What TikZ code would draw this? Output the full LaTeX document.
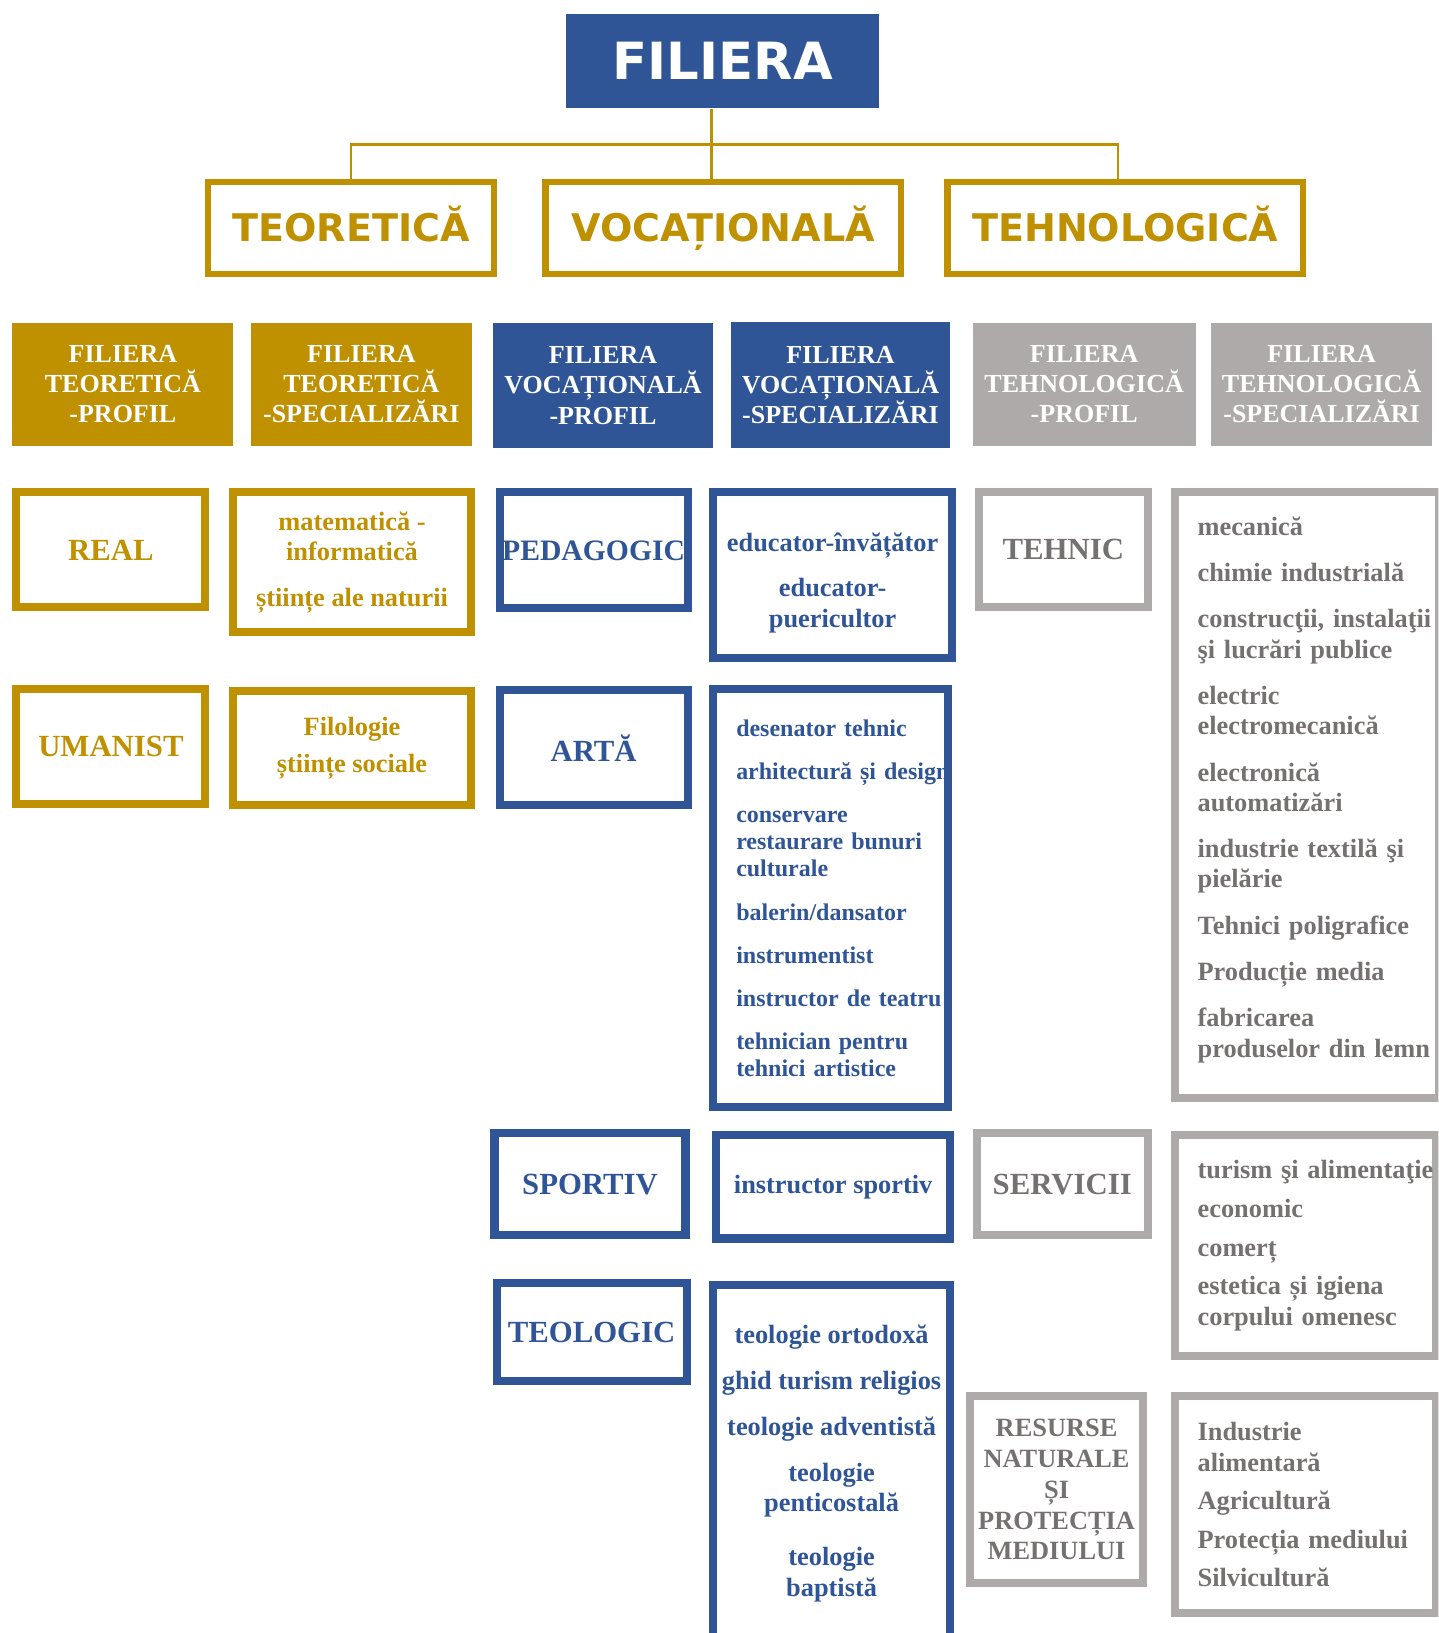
\documentclass[tikz,border=0pt]{standalone}
\usepackage{fontspec}
\setmainfont{Liberation Serif}
\newfontfamily\sansbold{DejaVu Sans}
\usetikzlibrary{positioning}

\definecolor{gold}{HTML}{BF9000}
\definecolor{navy}{HTML}{2F5597}
\definecolor{stone}{HTML}{AEAAAA}
\definecolor{slate}{HTML}{767171}

\begin{document}
\begin{tikzpicture}[x=0.01cm, y=-0.01cm,
    hub/.style = {fill=navy, text=white, inner sep=0,
        font=\sansbold\bfseries\fontsize{14}{16}\selectfont},
    branch/.style = {draw=gold, line width=1.65pt, text=gold, inner sep=0,
        text height=9.4pt, text depth=2pt,
        minimum height=0.882cm, font=\sansbold\bfseries\fontsize{10.4}{12}\selectfont},
    head/.style = {text=white, align=center, inner sep=0,
        font=\bfseries\fontsize{7.1}{8.25}\selectfont},
    cell/.style = {line width=2.2pt, align=center, inner sep=0,
        font=\bfseries\fontsize{7.2}{8.25}\selectfont},
    gcell/.style = {cell, draw=gold, text=gold},
    bcell/.style = {cell, draw=navy, text=navy},
    scell/.style = {cell, draw=stone, text=slate},
    big/.style = {font=\bfseries\fontsize{8.4}{10}\selectfont},
    list/.style = {align=left, inner xsep=0.22cm},
    link/.style = {draw=gold, line width=0.75pt}]

    \clip[use as bounding box] (0,0) rectangle (1381,1568);

    % top of the tree
    \node[hub, minimum width=3cm, minimum height=0.91cm] (hub) at (694,58.5) {FILIERA};
    \node[branch, minimum width=2.742cm] (teo) at (337,219) {TEORETICĂ};
    \node[branch, minimum width=3.412cm] (voc) at (694.5,219) {VOCAȚIONALĂ};
    \node[branch, minimum width=3.412cm] (teh) at (1080.5,219) {TEHNOLOGICĂ};

    \coordinate (junc) at (683,139);
    \draw[link] (junc |- hub.south) -- (junc |- voc.north);
    \draw[link] (teo.north) |- (junc) -| ([xshift=-0.07cm]teh.north);

    % filled headers
    \node[head, fill=gold, minimum width=2.12cm, minimum height=1.18cm] (tprof) at (118,369)
        {FILIERA\\TEORETICĂ\\-PROFIL};
    \node[head, fill=gold, minimum width=2.12cm, minimum height=1.18cm] (tspec) at (347,369)
        {FILIERA\\TEORETICĂ\\-SPECIALIZĂRI};
    \node[head, fill=navy, minimum width=2.12cm, minimum height=1.20cm] (vprof) at (579,370)
        {FILIERA\\VOCAȚIONALĂ\\-PROFIL};
    \node[head, fill=navy, minimum width=2.10cm, minimum height=1.21cm] (vspec) at (807,369.5)
        {FILIERA\\VOCAȚIONALĂ\\-SPECIALIZĂRI};
    \node[head, fill=stone, minimum width=2.14cm, minimum height=1.18cm] (hprof) at (1041,369)
        {FILIERA\\TEHNOLOGICĂ\\-PROFIL};
    \node[head, fill=stone, minimum width=2.12cm, minimum height=1.18cm] (hspec) at (1269,369)
        {FILIERA\\TEHNOLOGICĂ\\-SPECIALIZĂRI};

    % teoretica
    \node[gcell, big, minimum width=1.813cm, minimum height=1.103cm] (real) at (106.5,528) {REAL};
    \node[gcell, minimum width=2.283cm, minimum height=1.343cm] (mate) at (338,540)
        {matematică -\\informatică\\[4.4pt]științe ale naturii};
    \node[gcell, big, minimum width=1.813cm, minimum height=1.103cm] (uman) at (106.5,717) {UMANIST};
    \node[gcell, minimum width=2.283cm, minimum height=1.093cm] (filo) at (338,718.5)
        {Filologie\\[2pt]științe sociale};

    % vocationala
    \node[bcell, big, font=\bfseries\fontsize{8.1}{10}\selectfont,
        minimum width=1.803cm, minimum height=1.113cm] (peda) at (570,528.5) {PEDAGOGIC};
    \node[bcell, minimum width=2.293cm, minimum height=1.593cm] (educ) at (799.5,552.5)
        {\rule{0pt}{9pt}educator-învățător\\[4.3pt]educator-\\puericultor};
    \node[bcell, big, minimum width=1.803cm, minimum height=1.103cm] (arta) at (570,718) {ARTĂ};
    \node[bcell, list, text width=1.81cm, font=\bfseries\fontsize{6.55}{7.4}\selectfont,
        minimum width=2.253cm, minimum height=4.013cm] (dese) at (797.5,862.5)
        {desenator tehnic\\[4.4pt]
         \mbox{arhitectură și design}\\[4.4pt]
         conservare\\restaurare bunuri\\culturale\\[4.4pt]
         balerin/dansator\\[4.4pt]
         instrumentist\\[4.4pt]
         \mbox{instructor de teatru}\\[4.4pt]
         tehnician pentru\\tehnici artistice};
    \node[bcell, big, minimum width=1.833cm, minimum height=0.983cm] (sport) at (566.5,1137) {SPORTIV};
    \node[bcell, minimum width=2.243cm, minimum height=0.993cm] (instr) at (800,1139.5)
        {instructor sportiv};
    \node[bcell, big, minimum width=1.823cm, minimum height=0.943cm] (teol) at (568,1279) {TEOLOGIC};
    \node[bcell, minimum width=2.273cm, minimum height=3.423cm] (tlist) at (798.5,1405)
        {teologie ortodoxă\\[4.3pt]
         ghid turism religios\\[4.3pt]
         teologie adventistă\\[4.3pt]
         teologie\\penticostală\\[6.6pt]
         teologie\\baptistă};

    % tehnologica
    \node[scell, big, minimum width=1.623cm, minimum height=1.103cm] (tehn) at (1021,528) {TEHNIC};
    \node[scell, list, text width=2.10cm, minimum width=2.543cm, minimum height=5.813cm]
        (meca) at (1255,763.5)
        {mecanică\\[4.4pt]
         chimie industrială\\[4.4pt]
         \mbox{construcţii, instalaţii}\\şi lucrări publice\\[4.4pt]
         electric\\electromecanică\\[4.4pt]
         electronică\\automatizări\\[4.4pt]
         industrie textilă şi\\pielărie\\[4.4pt]
         Tehnici poligrafice\\[4.4pt]
         Producție media\\[4.4pt]
         fabricarea\\\mbox{produselor din lemn}\par\vspace*{3pt}};
    \node[scell, big, minimum width=1.643cm, minimum height=0.983cm] (serv) at (1020,1137) {SERVICII};
    \node[scell, list, text width=2.07cm, minimum width=2.513cm, minimum height=2.123cm]
        (turi) at (1253.5,1196)
        {\mbox{turism şi alimentaţie}\\[2.3pt]
         economic\\[2.3pt]
         comerț\\[2.3pt]
         estetica și igiena\\corpului omenesc};
    \node[scell, font=\bfseries\fontsize{7.2}{8.4}\selectfont,
        minimum width=1.653cm, minimum height=1.793cm] (resu) at (1014.5,1430.5)
        {RESURSE\\NATURALE\\ȘI\\PROTECȚIA\\MEDIULUI};
    \node[scell, list, text width=2.07cm, minimum width=2.513cm, minimum height=2.083cm]
        (indu) at (1253.5,1445)
        {Industrie\\alimentară\\[2.3pt]
         Agricultură\\[2.3pt]
         Protecția mediului\\[2.3pt]
         Silvicultură};

\end{tikzpicture}
\end{document}
